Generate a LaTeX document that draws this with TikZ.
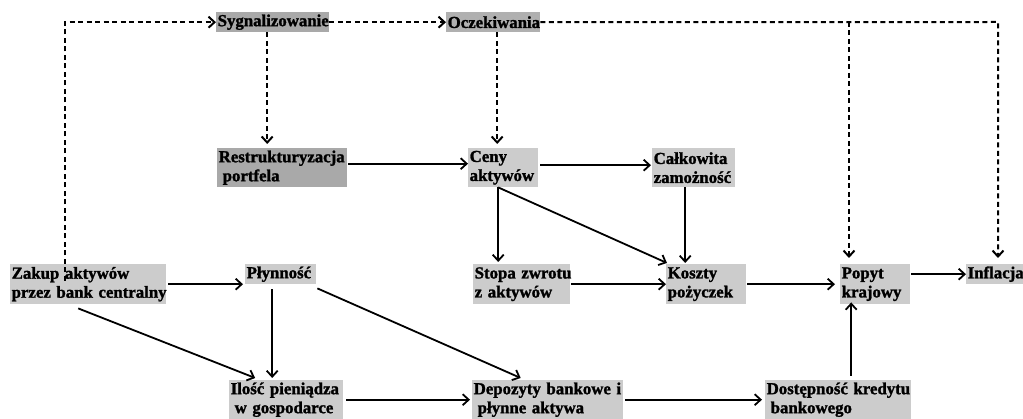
\documentclass[tikz,border=0pt]{standalone}
\usepackage{fontspec}
\setmainfont{Liberation Serif}[BoldFeatures={FakeBold=1.5}]
\usetikzlibrary{arrows.meta,calc}
\definecolor{lgray}{HTML}{CCCCCC}
\definecolor{dgray}{HTML}{A9A9A9}
\definecolor{mgray}{HTML}{B0B0B0}
\begin{document}
\begin{tikzpicture}[x=1pt,y=-1pt,
  box/.style={fill=lgray, anchor=north west, inner xsep=1.5pt, inner ysep=0pt,
    align=left, font=\bfseries\fontsize{16.8}{19}\selectfont},
  arr/.style={line width=1.8pt, -{Straight Barb[length=6pt,width=11pt]}},
  darr/.style={arr, line width=2pt, dash pattern=on 5pt off 3.5pt},
]
\useasboundingbox (0,0) rectangle (1023,419);

% nodes
\node[box, fill=dgray, text width=110pt, minimum height=20pt] (sygn) at (216,12) {\mbox{Sygnalizowanie}};
\node[box, fill=mgray, text width=91pt, minimum height=20pt] (oczek) at (446,12) {\mbox{Oczekiwania}};
\node[box, fill=dgray, text width=127pt, minimum height=39pt] (restr) at (217,148) {\mbox{Restrukturyzacja}\\\hspace*{4pt}\mbox{portfela}};
\node[box, text width=67pt, minimum height=39pt] (ceny) at (468,148) {\mbox{Ceny}\\\mbox{aktywów}};
\node[box, text width=80pt, minimum height=39pt] (calk) at (652,148) {\mbox{Całkowita}\\\mbox{zamożność}};
\node[box, text width=153pt, minimum height=40pt] (zakup) at (10,264) {\mbox{Zakup aktywów}\\\mbox{przez bank centralny}};
\node[box, text width=68pt, minimum height=20pt] (plyn) at (245,264) {\mbox{Płynność}};
\node[box, text width=94pt, minimum height=40pt] (stopa) at (473,264) {\mbox{Stopa zwrotu}\\\mbox{z aktywów}};
\node[box, text width=77pt, minimum height=40pt] (koszty) at (666,264) {\mbox{Koszty}\\\mbox{pożyczek}};
\node[box, text width=67pt, minimum height=40pt] (popyt) at (840,264) {\mbox{Popyt}\\\mbox{krajowy}};
\node[box, text width=54pt, minimum height=20pt] (infl) at (966,264) {\mbox{Inflacja}};
\node[box, text width=111pt, minimum height=39pt] (ilosc) at (229,380) {\mbox{Ilość pieniądza}\\\hspace*{4pt}\mbox{w gospodarce}};
\node[box, text width=148pt, minimum height=39pt] (depoz) at (472,380) {\mbox{Depozyty bankowe i}\\\hspace*{4pt}\mbox{płynne aktywa}};
\node[box, text width=143pt, minimum height=39pt] (dostep) at (765,380) {\mbox{Dostępność kredytu}\\\hspace*{4pt}\mbox{bankowego}};

% dashed connectors
\coordinate (j1) at (849,22);
\coordinate (j2) at (998,22);
\draw[darr] ($(zakup.north west)+(55,17)$) |- (sygn.west);
\draw[darr] (sygn.east) -- (oczek.west);
\draw[darr] ($(sygn.south)+(-5.5,0)$) -- ($(restr.north)+(-15,-4)$);
\draw[darr] ($(oczek.south)+(4,0)$) -- ($(ceny.north)+(-6,-4)$);
\draw[darr, shorten >=6pt] (oczek.east) -- (j2) -- (j2 |- infl.north);
\draw[darr, shorten >=6pt] (j1) -- (j1 |- popyt.north);

% solid connectors
\draw[arr] ($(restr.east)+(1,-4)$) -- ($(ceny.west)+(0,-4)$);
\draw[arr] ($(ceny.east)+(2,-2.5)$) -- ($(calk.west)+(-1,-2.5)$);
\draw[arr] ($(ceny.south)+(-5,0)$) -- ($(stopa.north)+(-23.5,-2)$);
\draw[arr] ($(ceny.south)+(-5,0)$) -- ($(koszty.north west)+(1,-1)$);
\draw[arr] ($(calk.south)+(-8.5,0)$) -- ($(koszty.north)+(-21,-1)$);
\draw[arr] ($(stopa.east)+(1,0)$) -- (koszty.west);
\draw[arr, shorten <=1pt, shorten >=5pt] (koszty.east) -- (popyt.west);
\draw[arr] ($(popyt.east |- infl.west)+(1,0)$) -- (infl.west);
\draw[arr, shorten <=2pt, shorten >=2pt] (zakup.east) -- (zakup.east -| plyn.west);
\draw[arr] ($(zakup.south)+(-10,4)$) -- ($(ilosc.north)+(-31,-2)$);
\draw[arr] ($(plyn.south)+(-8.5,5)$) -- ($(ilosc.north)+(-14,-2)$);
\draw[arr] ($(plyn.south east)+(1,4)$) -- ($(depoz.north)+(-27,-2)$);
\draw[arr, shorten <=3pt, shorten >=2pt] (ilosc.east) -- (ilosc.east -| depoz.west);
\draw[arr, shorten <=2pt, shorten >=3pt] (depoz.east) -- (depoz.east -| dostep.west);
\draw[arr] ($(dostep.north)+(13,-4)$) -- ($(popyt.south)+(-24,-2)$);
\end{tikzpicture}
\end{document}
